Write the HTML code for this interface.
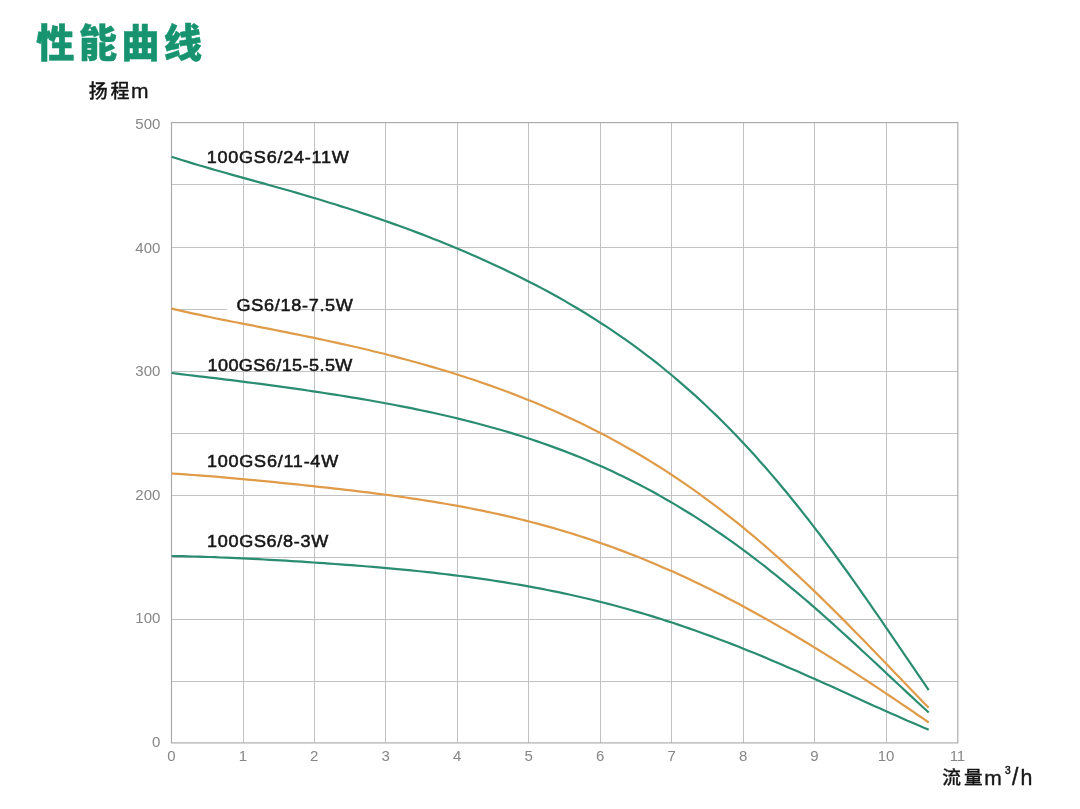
<!DOCTYPE html>
<html lang="zh">
<head>
<meta charset="utf-8">
<title>Performance curve</title>
<style>
html,body{margin:0;padding:0;background:#fff;}
svg{will-change:transform;}
body{width:1080px;height:809px;position:relative;overflow:hidden;font-family:"Liberation Sans",sans-serif;}
</style>
</head>
<body>
<svg width="1080" height="809" viewBox="0 0 1080 809" style="position:absolute;left:0;top:0;display:block"><g stroke="#c2c2c2" stroke-width="1" fill="none" shape-rendering="crispEdges"><line x1="243.03" y1="122.95" x2="243.03" y2="743.35"/><line x1="314.49" y1="122.95" x2="314.49" y2="743.35"/><line x1="385.95" y1="122.95" x2="385.95" y2="743.35"/><line x1="457.41" y1="122.95" x2="457.41" y2="743.35"/><line x1="528.88" y1="122.95" x2="528.88" y2="743.35"/><line x1="600.34" y1="122.95" x2="600.34" y2="743.35"/><line x1="671.80" y1="122.95" x2="671.80" y2="743.35"/><line x1="743.26" y1="122.95" x2="743.26" y2="743.35"/><line x1="814.72" y1="122.95" x2="814.72" y2="743.35"/><line x1="886.18" y1="122.95" x2="886.18" y2="743.35"/><line x1="171.57" y1="184.99" x2="957.64" y2="184.99"/><line x1="171.57" y1="247.03" x2="957.64" y2="247.03"/><line x1="171.57" y1="309.07" x2="957.64" y2="309.07"/><line x1="171.57" y1="371.11" x2="957.64" y2="371.11"/><line x1="171.57" y1="433.15" x2="957.64" y2="433.15"/><line x1="171.57" y1="495.19" x2="957.64" y2="495.19"/><line x1="171.57" y1="557.23" x2="957.64" y2="557.23"/><line x1="171.57" y1="619.27" x2="957.64" y2="619.27"/><line x1="171.57" y1="681.31" x2="957.64" y2="681.31"/></g>
<rect x="171.50" y="122.60" width="786.30" height="620.30" fill="none" stroke="#a9a9a9" stroke-width="1.15"/>
<rect x="227" y="306.5" width="11" height="4.5" fill="#fff"/>
<path transform="translate(0 0.5)" d="M171.6 156.2 L177.0 158.0 L182.5 159.7 L187.9 161.4 L193.4 163.1 L198.8 164.7 L204.3 166.3 L209.7 167.9 L215.1 169.5 L220.6 171.0 L226.0 172.5 L231.5 174.1 L236.9 175.6 L242.4 177.1 L247.8 178.6 L253.3 180.1 L258.7 181.6 L264.2 183.1 L269.6 184.7 L275.1 186.2 L280.5 187.7 L286.0 189.3 L291.4 190.8 L296.9 192.4 L302.3 194.0 L307.7 195.6 L313.2 197.2 L318.6 198.8 L324.1 200.5 L329.5 202.2 L335.0 203.8 L340.4 205.6 L345.9 207.3 L351.3 209.0 L356.8 210.8 L362.2 212.6 L367.7 214.4 L373.1 216.3 L378.6 218.1 L384.0 220.0 L389.4 221.9 L394.9 223.9 L400.3 225.8 L405.8 227.8 L411.2 229.8 L416.7 231.9 L422.1 233.9 L427.6 236.0 L433.0 238.2 L438.5 240.3 L443.9 242.5 L449.4 244.7 L454.8 247.0 L460.3 249.3 L465.7 251.6 L471.2 253.9 L476.6 256.3 L482.0 258.7 L487.5 261.2 L492.9 263.7 L498.4 266.2 L503.8 268.7 L509.3 271.4 L514.7 274.0 L520.2 276.7 L525.6 279.4 L531.1 282.2 L536.5 285.0 L542.0 287.9 L547.4 290.8 L552.9 293.8 L558.3 296.8 L563.8 299.9 L569.2 303.1 L574.6 306.3 L580.1 309.5 L585.5 312.8 L591.0 316.2 L596.4 319.7 L601.9 323.2 L607.3 326.7 L612.8 330.4 L618.2 334.1 L623.7 337.9 L629.1 341.7 L634.6 345.7 L640.0 349.7 L645.5 353.8 L650.9 357.9 L656.4 362.2 L661.8 366.5 L667.2 371.0 L672.7 375.5 L678.1 380.1 L683.6 384.8 L689.0 389.6 L694.5 394.4 L699.9 399.4 L705.4 404.5 L710.8 409.7 L716.3 414.9 L721.7 420.3 L727.2 425.7 L732.6 431.3 L738.1 437.0 L743.5 442.7 L748.9 448.6 L754.4 454.6 L759.8 460.7 L765.3 466.8 L770.7 473.1 L776.2 479.5 L781.6 486.0 L787.1 492.5 L792.5 499.2 L798.0 506.0 L803.4 512.9 L808.9 519.8 L814.3 526.9 L819.8 534.0 L825.2 541.3 L830.7 548.6 L836.1 556.0 L841.5 563.5 L847.0 571.0 L852.4 578.7 L857.9 586.3 L863.3 594.1 L868.8 601.9 L874.2 609.8 L879.7 617.7 L885.1 625.6 L890.6 633.6 L896.0 641.6 L901.5 649.6 L906.9 657.6 L912.4 665.7 L917.8 673.7 L923.3 681.7 L928.7 689.7" fill="none" stroke="#2a8d72" stroke-width="2.2" stroke-linecap="butt" stroke-linejoin="round"/>
<path transform="translate(0 0.5)" d="M171.6 308.1 L177.0 309.4 L182.5 310.6 L187.9 311.9 L193.4 313.1 L198.8 314.2 L204.3 315.4 L209.7 316.5 L215.1 317.7 L220.6 318.8 L226.0 319.9 L231.5 321.0 L236.9 322.0 L242.4 323.1 L247.8 324.2 L253.3 325.2 L258.7 326.3 L264.2 327.4 L269.6 328.4 L275.1 329.5 L280.5 330.6 L286.0 331.7 L291.4 332.8 L296.9 333.9 L302.3 335.0 L307.7 336.1 L313.2 337.2 L318.6 338.4 L324.1 339.5 L329.5 340.7 L335.0 341.9 L340.4 343.1 L345.9 344.3 L351.3 345.5 L356.8 346.8 L362.2 348.0 L367.7 349.3 L373.1 350.7 L378.6 352.0 L384.0 353.3 L389.4 354.7 L394.9 356.1 L400.3 357.6 L405.8 359.0 L411.2 360.5 L416.7 362.0 L422.1 363.5 L427.6 365.1 L433.0 366.6 L438.5 368.2 L443.9 369.9 L449.4 371.5 L454.8 373.2 L460.3 375.0 L465.7 376.7 L471.2 378.5 L476.6 380.3 L482.0 382.2 L487.5 384.1 L492.9 386.0 L498.4 388.0 L503.8 390.0 L509.3 392.0 L514.7 394.1 L520.2 396.2 L525.6 398.4 L531.1 400.6 L536.5 402.8 L542.0 405.1 L547.4 407.4 L552.9 409.8 L558.3 412.2 L563.8 414.7 L569.2 417.2 L574.6 419.7 L580.1 422.3 L585.5 425.0 L591.0 427.7 L596.4 430.5 L601.9 433.3 L607.3 436.1 L612.8 439.1 L618.2 442.0 L623.7 445.1 L629.1 448.2 L634.6 451.3 L640.0 454.5 L645.5 457.8 L650.9 461.1 L656.4 464.5 L661.8 467.9 L667.2 471.4 L672.7 475.0 L678.1 478.6 L683.6 482.3 L689.0 486.1 L694.5 489.9 L699.9 493.8 L705.4 497.8 L710.8 501.8 L716.3 505.9 L721.7 510.1 L727.2 514.3 L732.6 518.6 L738.1 522.9 L743.5 527.4 L748.9 531.8 L754.4 536.4 L759.8 541.0 L765.3 545.7 L770.7 550.5 L776.2 555.3 L781.6 560.1 L787.1 565.1 L792.5 570.1 L798.0 575.1 L803.4 580.2 L808.9 585.4 L814.3 590.6 L819.8 595.9 L825.2 601.2 L830.7 606.6 L836.1 612.0 L841.5 617.4 L847.0 622.9 L852.4 628.4 L857.9 634.0 L863.3 639.6 L868.8 645.2 L874.2 650.8 L879.7 656.5 L885.1 662.1 L890.6 667.8 L896.0 673.5 L901.5 679.1 L906.9 684.8 L912.4 690.4 L917.8 696.1 L923.3 701.7 L928.7 707.2" fill="none" stroke="#e09b49" stroke-width="2.2" stroke-linecap="butt" stroke-linejoin="round"/>
<path transform="translate(0 0.5)" d="M171.6 372.5 L177.0 373.2 L182.5 373.8 L187.9 374.5 L193.4 375.1 L198.8 375.8 L204.3 376.4 L209.7 377.1 L215.1 377.7 L220.6 378.4 L226.0 379.1 L231.5 379.7 L236.9 380.4 L242.4 381.1 L247.8 381.8 L253.3 382.5 L258.7 383.2 L264.2 383.9 L269.6 384.7 L275.1 385.4 L280.5 386.2 L286.0 386.9 L291.4 387.7 L296.9 388.4 L302.3 389.2 L307.7 390.0 L313.2 390.8 L318.6 391.6 L324.1 392.5 L329.5 393.3 L335.0 394.1 L340.4 395.0 L345.9 395.9 L351.3 396.8 L356.8 397.7 L362.2 398.6 L367.7 399.5 L373.1 400.5 L378.6 401.5 L384.0 402.5 L389.4 403.5 L394.9 404.5 L400.3 405.6 L405.8 406.6 L411.2 407.7 L416.7 408.8 L422.1 410.0 L427.6 411.1 L433.0 412.3 L438.5 413.5 L443.9 414.8 L449.4 416.0 L454.8 417.3 L460.3 418.6 L465.7 420.0 L471.2 421.4 L476.6 422.8 L482.0 424.2 L487.5 425.7 L492.9 427.2 L498.4 428.7 L503.8 430.3 L509.3 431.9 L514.7 433.6 L520.2 435.3 L525.6 437.0 L531.1 438.8 L536.5 440.6 L542.0 442.5 L547.4 444.4 L552.9 446.4 L558.3 448.4 L563.8 450.4 L569.2 452.5 L574.6 454.6 L580.1 456.8 L585.5 459.1 L591.0 461.4 L596.4 463.7 L601.9 466.1 L607.3 468.6 L612.8 471.1 L618.2 473.7 L623.7 476.3 L629.1 479.0 L634.6 481.7 L640.0 484.5 L645.5 487.4 L650.9 490.3 L656.4 493.3 L661.8 496.4 L667.2 499.5 L672.7 502.6 L678.1 505.9 L683.6 509.2 L689.0 512.5 L694.5 515.9 L699.9 519.4 L705.4 523.0 L710.8 526.6 L716.3 530.3 L721.7 534.0 L727.2 537.8 L732.6 541.7 L738.1 545.6 L743.5 549.6 L748.9 553.7 L754.4 557.8 L759.8 562.0 L765.3 566.2 L770.7 570.6 L776.2 574.9 L781.6 579.3 L787.1 583.8 L792.5 588.3 L798.0 592.9 L803.4 597.5 L808.9 602.2 L814.3 606.9 L819.8 611.7 L825.2 616.5 L830.7 621.4 L836.1 626.3 L841.5 631.2 L847.0 636.1 L852.4 641.1 L857.9 646.1 L863.3 651.2 L868.8 656.2 L874.2 661.3 L879.7 666.4 L885.1 671.5 L890.6 676.6 L896.0 681.7 L901.5 686.8 L906.9 691.9 L912.4 696.9 L917.8 702.0 L923.3 707.0 L928.7 712.0" fill="none" stroke="#2a8d72" stroke-width="2.2" stroke-linecap="butt" stroke-linejoin="round"/>
<path transform="translate(0 0.5)" d="M171.6 473.0 L177.0 473.3 L182.5 473.7 L187.9 474.1 L193.4 474.5 L198.8 474.9 L204.3 475.3 L209.7 475.7 L215.1 476.2 L220.6 476.7 L226.0 477.1 L231.5 477.6 L236.9 478.1 L242.4 478.6 L247.8 479.1 L253.3 479.6 L258.7 480.1 L264.2 480.7 L269.6 481.2 L275.1 481.7 L280.5 482.3 L286.0 482.8 L291.4 483.4 L296.9 483.9 L302.3 484.5 L307.7 485.1 L313.2 485.7 L318.6 486.3 L324.1 486.8 L329.5 487.4 L335.0 488.1 L340.4 488.7 L345.9 489.3 L351.3 489.9 L356.8 490.6 L362.2 491.3 L367.7 491.9 L373.1 492.6 L378.6 493.3 L384.0 494.0 L389.4 494.7 L394.9 495.5 L400.3 496.2 L405.8 497.0 L411.2 497.8 L416.7 498.6 L422.1 499.5 L427.6 500.3 L433.0 501.2 L438.5 502.1 L443.9 503.0 L449.4 504.0 L454.8 504.9 L460.3 505.9 L465.7 506.9 L471.2 508.0 L476.6 509.1 L482.0 510.2 L487.5 511.3 L492.9 512.5 L498.4 513.6 L503.8 514.9 L509.3 516.1 L514.7 517.4 L520.2 518.7 L525.6 520.1 L531.1 521.5 L536.5 522.9 L542.0 524.4 L547.4 525.9 L552.9 527.4 L558.3 529.0 L563.8 530.6 L569.2 532.2 L574.6 533.9 L580.1 535.7 L585.5 537.4 L591.0 539.2 L596.4 541.1 L601.9 543.0 L607.3 544.9 L612.8 546.8 L618.2 548.9 L623.7 550.9 L629.1 553.0 L634.6 555.1 L640.0 557.3 L645.5 559.5 L650.9 561.7 L656.4 564.0 L661.8 566.4 L667.2 568.7 L672.7 571.1 L678.1 573.6 L683.6 576.1 L689.0 578.6 L694.5 581.2 L699.9 583.8 L705.4 586.5 L710.8 589.1 L716.3 591.9 L721.7 594.6 L727.2 597.4 L732.6 600.3 L738.1 603.1 L743.5 606.0 L748.9 609.0 L754.4 612.0 L759.8 615.0 L765.3 618.0 L770.7 621.1 L776.2 624.2 L781.6 627.4 L787.1 630.5 L792.5 633.8 L798.0 637.0 L803.4 640.3 L808.9 643.5 L814.3 646.9 L819.8 650.2 L825.2 653.6 L830.7 657.0 L836.1 660.4 L841.5 663.9 L847.0 667.3 L852.4 670.8 L857.9 674.4 L863.3 677.9 L868.8 681.5 L874.2 685.1 L879.7 688.7 L885.1 692.3 L890.6 696.0 L896.0 699.6 L901.5 703.3 L906.9 707.0 L912.4 710.7 L917.8 714.5 L923.3 718.2 L928.7 722.0" fill="none" stroke="#e09b49" stroke-width="2.2" stroke-linecap="butt" stroke-linejoin="round"/>
<path transform="translate(0 0.5)" d="M171.6 555.5 L177.0 555.6 L182.5 555.7 L187.9 555.9 L193.4 556.0 L198.8 556.2 L204.3 556.3 L209.7 556.5 L215.1 556.7 L220.6 557.0 L226.0 557.2 L231.5 557.4 L236.9 557.7 L242.4 557.9 L247.8 558.2 L253.3 558.4 L258.7 558.7 L264.2 559.0 L269.6 559.3 L275.1 559.6 L280.5 559.9 L286.0 560.2 L291.4 560.6 L296.9 560.9 L302.3 561.2 L307.7 561.6 L313.2 562.0 L318.6 562.3 L324.1 562.7 L329.5 563.1 L335.0 563.5 L340.4 563.8 L345.9 564.3 L351.3 564.7 L356.8 565.1 L362.2 565.5 L367.7 566.0 L373.1 566.4 L378.6 566.9 L384.0 567.3 L389.4 567.8 L394.9 568.3 L400.3 568.8 L405.8 569.4 L411.2 569.9 L416.7 570.5 L422.1 571.0 L427.6 571.6 L433.0 572.2 L438.5 572.8 L443.9 573.5 L449.4 574.1 L454.8 574.8 L460.3 575.5 L465.7 576.2 L471.2 576.9 L476.6 577.6 L482.0 578.4 L487.5 579.2 L492.9 580.0 L498.4 580.8 L503.8 581.7 L509.3 582.6 L514.7 583.5 L520.2 584.4 L525.6 585.4 L531.1 586.4 L536.5 587.4 L542.0 588.4 L547.4 589.5 L552.9 590.6 L558.3 591.7 L563.8 592.8 L569.2 594.0 L574.6 595.2 L580.1 596.5 L585.5 597.7 L591.0 599.0 L596.4 600.4 L601.9 601.7 L607.3 603.1 L612.8 604.5 L618.2 606.0 L623.7 607.5 L629.1 609.0 L634.6 610.6 L640.0 612.1 L645.5 613.8 L650.9 615.4 L656.4 617.1 L661.8 618.8 L667.2 620.6 L672.7 622.3 L678.1 624.1 L683.6 626.0 L689.0 627.9 L694.5 629.8 L699.9 631.7 L705.4 633.7 L710.8 635.6 L716.3 637.7 L721.7 639.7 L727.2 641.8 L732.6 643.9 L738.1 646.0 L743.5 648.2 L748.9 650.4 L754.4 652.6 L759.8 654.8 L765.3 657.1 L770.7 659.4 L776.2 661.7 L781.6 664.0 L787.1 666.4 L792.5 668.7 L798.0 671.1 L803.4 673.5 L808.9 675.9 L814.3 678.3 L819.8 680.8 L825.2 683.2 L830.7 685.6 L836.1 688.1 L841.5 690.6 L847.0 693.0 L852.4 695.5 L857.9 698.0 L863.3 700.4 L868.8 702.9 L874.2 705.4 L879.7 707.8 L885.1 710.3 L890.6 712.7 L896.0 715.1 L901.5 717.5 L906.9 719.9 L912.4 722.2 L917.8 724.6 L923.3 726.9 L928.7 729.2" fill="none" stroke="#2a8d72" stroke-width="2.2" stroke-linecap="butt" stroke-linejoin="round"/>
<g font-family="'Liberation Sans', sans-serif" font-size="15" fill="#868686"><text x="160.4" y="128.85" text-anchor="end">500</text><text x="160.4" y="252.51" text-anchor="end">400</text><text x="160.4" y="376.17" text-anchor="end">300</text><text x="160.4" y="499.83" text-anchor="end">200</text><text x="160.4" y="623.49" text-anchor="end">100</text><text x="160.4" y="747.15" text-anchor="end">0</text><text x="171.37" y="761.2" text-anchor="middle">0</text><text x="242.83" y="761.2" text-anchor="middle">1</text><text x="314.29" y="761.2" text-anchor="middle">2</text><text x="385.75" y="761.2" text-anchor="middle">3</text><text x="457.21" y="761.2" text-anchor="middle">4</text><text x="528.67" y="761.2" text-anchor="middle">5</text><text x="600.14" y="761.2" text-anchor="middle">6</text><text x="671.60" y="761.2" text-anchor="middle">7</text><text x="743.06" y="761.2" text-anchor="middle">8</text><text x="814.52" y="761.2" text-anchor="middle">9</text><text x="885.98" y="761.2" text-anchor="middle">10</text><text x="957.44" y="761.2" text-anchor="middle">11</text></g>
<g font-family="'Liberation Sans', sans-serif" font-size="17.2" fill="#161616" stroke="#161616" stroke-width="0.55"><text transform="translate(206.70 162.75) scale(1.05 1)" textLength="135.33" lengthAdjust="spacing">100GS6/24-11W</text><text transform="translate(236.50 311.05) scale(1.05 1)" textLength="110.86" lengthAdjust="spacing">GS6/18-7.5W</text><text transform="translate(207.50 370.75) scale(1.05 1)" textLength="138.00" lengthAdjust="spacing">100GS6/15-5.5W</text><text transform="translate(207.00 466.85) scale(1.05 1)" textLength="124.95" lengthAdjust="spacing">100GS6/11-4W</text><text transform="translate(207.00 546.55) scale(1.05 1)" textLength="115.43" lengthAdjust="spacing">100GS6/8-3W</text></g>
<text x="36.21" y="56.87" font-family="'Liberation Sans', 'Noto Sans CJK SC', sans-serif" font-size="38.28" font-weight="900" letter-spacing="4.28" fill="#17946f" stroke="#17946f" stroke-width="0.46">性能曲线</text>
<text x="88.79" y="98.12" font-family="'Liberation Sans', 'Noto Sans CJK SC', sans-serif" font-size="19.01" font-weight="500" letter-spacing="2.64" fill="#161616" stroke="#161616" stroke-width="0.27">扬程</text>
<text x="131.0" y="98.1" font-family="'Liberation Sans', sans-serif" font-size="21" fill="#161616" stroke="#161616" stroke-width="0.4">m</text>
<text x="942.23" y="784.10" font-family="'Liberation Sans', 'Noto Sans CJK SC', sans-serif" font-size="18.7" font-weight="500" letter-spacing="3.17" fill="#161616" stroke="#161616" stroke-width="0.26">流量</text>
<g font-family="'Liberation Sans', sans-serif" fill="#161616" stroke="#161616" stroke-width="0.4"><text x="984.3" y="784.7" font-size="21">m</text><text x="1004.9" y="774.0" font-size="10.2" stroke-width="0.5">3</text><text x="1011.9" y="784.7" font-size="23">/</text><text transform="translate(1020.5 784.7) scale(0.93 1)" font-size="23">h</text></g></svg>
</body>
</html>
